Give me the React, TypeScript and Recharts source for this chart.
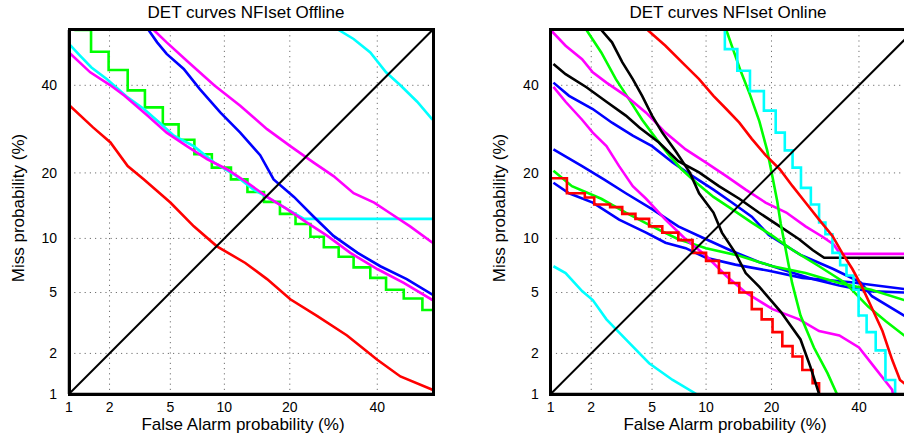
import { LineChart, Line, XAxis, YAxis, CartesianGrid } from "recharts";

// DET curves: [false alarm %, miss %]
const AXIS_MAX = 54.7;
const TICK_PCT = [1, 2, 5, 10, 20, 40];
const TICK_LABELS = ["1", "2", "5", "10", "20", "40"];
const DIAG = [[1, 1], [AXIS_MAX, AXIS_MAX]];

// offline panel
const offRed = [[1, 35], [1.52, 29.6], [2.03, 26.2], [2.67, 21.3], [3.42, 18.8], [5, 14.9], [6.85, 11.5], [9.15, 9.1], [12.7, 7.4], [16, 6], [20.1, 4.55], [25.5, 3.58], [32.4, 2.66], [40, 1.8], [46.1, 1.36], [54.7, 1.08]];
const offGreen = [[1.1, 54.7], [1.47, 48.9], [1.97, 44], [2.67, 38.7], [3.47, 34.4], [4.5, 30.3], [5.6, 26.8], [6.9, 23.7], [8.6, 21], [10.8, 18.8], [13, 16.6], [15.5, 15], [18.2, 13.2], [21.1, 11.8], [24.1, 10.2], [27, 9], [30.4, 8], [34, 7], [38.2, 6.1], [42.3, 5.2], [47, 4.6], [52, 3.9], [54.7, 3.9]];
const offCyanLow = [[1, 51], [1.22, 47.8], [1.48, 44.7], [1.92, 41.6], [2.67, 36.9], [3.42, 34], [4.3, 30.7], [5.25, 27.7], [6.85, 25.4], [8.85, 22], [11.2, 19.7], [13.9, 17], [16.5, 15.5], [19.5, 13.9], [22.8, 12.5], [54.7, 12.5]];
const offMagentaLow = [[1, 48.7], [1.45, 43.4], [2.03, 40], [2.54, 37.3], [3.6, 32.4], [4.75, 28.4], [6.25, 25.4], [8.1, 22.7], [10.3, 20.7], [13, 18.2], [16, 15.8], [19.5, 13.9], [23.4, 12], [27.8, 10.3], [33.2, 8.4], [40, 6.85], [47, 5.7], [54.7, 4.5]];
const offBlue = [[3.66, 54.7], [4.15, 51.4], [4.75, 48.3], [6, 44.3], [7.4, 39], [9.55, 33.1], [12, 28.4], [14.9, 23.5], [17.1, 18.8], [20.8, 15.8], [24.8, 12.8], [29.2, 10.3], [35, 8.4], [40.8, 7.1], [47.8, 6], [54.7, 4.85]];
const offMagentaHigh = [[3.95, 54.7], [4.75, 51.4], [6.25, 46.5], [8.85, 40], [12, 34.8], [16, 29.2], [20.1, 25.4], [24.8, 22], [29.2, 19.4], [34, 16.4], [39.2, 14.9], [43.1, 13.4], [48.7, 11.5], [54.7, 9.5]];
const offCyanHigh = [[30.4, 54.7], [34, 52.3], [38.2, 48.7], [42.3, 43.4], [46.1, 40], [50.6, 35.8], [54.7, 31.4]];

// online panel
const onCyanLow = [[1.05, 7.1], [1.3, 6.5], [1.72, 5.1], [2.05, 4.5], [2.55, 3.4], [3.43, 2.5], [4.8, 1.7], [6.6, 1.28], [8.9, 1.0]];
const onRedStep = [[1, 19], [1.33, 16.4], [1.8, 15.7], [2.1, 14.6], [2.7, 14.2], [3.25, 13.2], [3.95, 12.5], [4.8, 11.5], [5.75, 10.7], [7.1, 9.8], [8.5, 8.4], [10, 7.6], [11.6, 6.5], [13, 5.7], [14.5, 5], [16.5, 3.95], [18.2, 3.4], [20.2, 2.8], [22.1, 2.25], [24.2, 1.9], [26.3, 1.52], [28.6, 1.21], [30.1, 1.0]];
const onBlueLow = [[1.05, 18.2], [1.38, 16.4], [2.05, 14.9], [3.1, 12.4], [4.6, 10.7], [6, 9.5], [7.8, 8.9], [10, 7.9], [13.9, 7.25], [19.5, 6.7], [26.3, 6.1], [37.9, 5.75], [52, 5.25], [54.7, 5.2]];
const onBlueMid = [[1.05, 24.7], [1.72, 21.3], [2.45, 18.8], [3.43, 16.4], [5, 13.9], [7.1, 11.5], [10, 9.9], [13.4, 8.6], [17.7, 7.5], [22.9, 6.7], [28.6, 6.0], [35, 5.5], [42.4, 5.1], [52, 5.0], [54.7, 4.95]];
const onBlueHigh = [[1.05, 40.7], [1.38, 37.3], [2.05, 34], [2.78, 30.7], [3.8, 27.7], [5, 25.4], [6.6, 22], [8.5, 19.4], [10.9, 17], [13.4, 14.9], [16.5, 12.8], [19.5, 10.4], [25.9, 8.2], [33.5, 6.85], [40.4, 5.75], [43.4, 4.75], [52, 3.6], [54.7, 3.35]];
const onGreenLow = [[1.05, 20.4], [1.45, 17.6], [2.35, 15.5], [3.43, 13.4], [5, 11.5], [7.1, 9.9], [10, 8.9], [14.5, 8.1], [20.2, 7.1], [27, 6.5], [35, 5.7], [43.2, 5.2], [52, 4.5], [54.7, 4.35]];
const onGreenMid = [[1.85, 54.7], [2.35, 48.7], [2.95, 41.6], [3.6, 36.4], [4.35, 31.4], [5.3, 27], [6.3, 23.5], [7.4, 20.7], [8.9, 18.2], [10.9, 15.8], [13.4, 13.9], [16.5, 12], [20.2, 10.3], [24.2, 8.7], [30.1, 7.1], [36.5, 5.7], [42.4, 4.1], [47.1, 3.3], [52, 2.66], [54.7, 2.5]];
const onGreenSteep = [[12.6, 54.7], [14.7, 43.8], [16.2, 37.6], [17.8, 31], [19.2, 24.5], [20.1, 19.7], [21.1, 15.1], [21.8, 11.8], [22.8, 8.7], [24.1, 5.7], [25.9, 3.6], [28.9, 2.2], [32.1, 1.44], [34.4, 1.0]];
const onMagentaHigh = [[1.0, 54.7], [1.3, 50.5], [1.72, 46.9], [2.05, 43.4], [2.55, 40.7], [3.43, 37.3], [4.6, 33.1], [6, 28.4], [7.8, 24.7], [10, 22], [12.6, 19.4], [15.5, 17], [18.9, 14.9], [22.9, 13.4], [27, 11.5], [30.9, 10.2], [33.6, 9.3], [35.2, 8.3], [54.7, 8.3]];
const onMagentaLow = [[1.05, 39.6], [1.3, 35.8], [1.72, 31.4], [2.05, 28.4], [2.55, 25.4], [3.1, 21.3], [3.8, 17.6], [4.6, 15.5], [6, 12.4], [7.8, 9.9], [10, 8.1], [12.6, 6.25], [15.5, 5], [20.2, 3.95], [25.6, 3.4], [30.1, 2.85], [35, 2.66], [40, 2.2], [44, 1.6], [48.8, 1.08], [49, 1.0]];
const onBlackFlat = [[1.05, 45.6], [1.3, 42.9], [1.85, 39.5], [2.55, 35.8], [3.43, 32.4], [4.2, 29.5], [5.5, 26.2], [7.1, 22.3], [9.2, 20.1], [11.6, 17.6], [14.5, 15.5], [17.7, 13.4], [21.6, 11.5], [25.6, 9.9], [28.6, 8.7], [31.3, 7.9], [54.7, 7.9]];
const onBlackSteep = [[2.35, 54.7], [2.78, 51.4], [3.25, 46.1], [3.8, 41.6], [4.35, 37.3], [5, 32.4], [5.75, 28.4], [6.9, 24.2], [8.2, 20.1], [9.2, 16.4], [10.9, 13.4], [12, 10.7], [13.9, 8.4], [15.5, 6.5], [17.8, 5.4], [21.8, 3.8], [25.9, 2.5], [28.1, 1.6], [30.1, 1.0]];
const onRedHigh = [[4.7, 54.7], [6, 50.5], [7.8, 45.1], [9.2, 41.6], [10.9, 37.3], [12.6, 34], [14.5, 30.7], [16.5, 27], [18.9, 23.5], [21.6, 20.7], [24.2, 17.6], [27, 14.9], [30.1, 12.4], [33.3, 10.3], [35.7, 8.4], [38.3, 6.85], [40.8, 5.4], [43.2, 4.1], [46.2, 2.85], [48.8, 1.8], [50.9, 1.28], [52, 1.21], [54.7, 1.1]];
const onCyanStep = [[12.4, 54.7], [12.4, 49.6], [14.2, 43.8], [16.2, 38.5], [18.6, 33.6], [20.8, 28.4], [22.6, 24.5], [24.2, 21], [26, 17.3], [28.2, 14.6], [30.1, 12], [31.6, 10.5], [33.3, 8.4], [35.2, 7.2], [36.8, 6.3], [38.6, 5.2], [39.9, 3.6], [42, 2.8], [44.4, 2.1], [47, 1.28], [49.6, 1.0]];

const RED = "#ff0000";
const GREEN = "#00ff00";
const BLUE = "#0000ff";
const MAGENTA = "#ff00ff";
const CYAN = "#00ffff";
const BLACK = "#000000";
const FONT = "'Liberation Sans', Arial, Helvetica, sans-serif";

type Series = { data: number[][]; color: string; step?: boolean };

const offlineSeries: Series[] = [
  { data: offRed, color: RED },
  { data: offGreen, color: GREEN, step: true },
  { data: offCyanLow, color: CYAN },
  { data: offMagentaLow, color: MAGENTA },
  { data: offBlue, color: BLUE },
  { data: offMagentaHigh, color: MAGENTA },
  { data: offCyanHigh, color: CYAN },
];

const onlineSeries: Series[] = [
  { data: onCyanLow, color: CYAN },
  { data: onBlueLow, color: BLUE },
  { data: onBlueMid, color: BLUE },
  { data: onBlueHigh, color: BLUE },
  { data: onGreenLow, color: GREEN },
  { data: onMagentaLow, color: MAGENTA },
  { data: onRedStep, color: RED, step: true },
  { data: onGreenMid, color: GREEN },
  { data: onMagentaHigh, color: MAGENTA },
  { data: onBlackFlat, color: BLACK },
  { data: onBlackSteep, color: BLACK },
  { data: onGreenSteep, color: GREEN },
  { data: onCyanStep, color: CYAN, step: true },
  { data: onRedHigh, color: RED },
];

// inverse normal CDF (Acklam), used for the DET normal-deviate axes
function probit(p: number) {
  const a = [-39.69683028665376, 220.9460984245205, -275.9285104469687, 138.357751867269, -30.66479806614716, 2.506628277459239];
  const b = [-54.47609879822406, 161.5858368580409, -155.6989798598866, 66.80131188771972, -13.28068155288572];
  const c = [-0.007784894002430293, -0.3223964580411365, -2.400758277161838, -2.549732539343734, 4.374664141464968, 2.938163982698783];
  const d = [0.007784695709041462, 0.3224671290700398, 2.445134137142996, 3.754408661907416];
  const pl = 0.02425;
  if (p < pl) {
    const q = Math.sqrt(-2 * Math.log(p));
    return (((((c[0] * q + c[1]) * q + c[2]) * q + c[3]) * q + c[4]) * q + c[5]) / ((((d[0] * q + d[1]) * q + d[2]) * q + d[3]) * q + 1);
  }
  if (p <= 1 - pl) {
    const q = p - 0.5;
    const r = q * q;
    return ((((((a[0] * r + a[1]) * r + a[2]) * r + a[3]) * r + a[4]) * r + a[5]) * q) / (((((b[0] * r + b[1]) * r + b[2]) * r + b[3]) * r + b[4]) * r + 1);
  }
  const q = Math.sqrt(-2 * Math.log(1 - p));
  return -(((((c[0] * q + c[1]) * q + c[2]) * q + c[3]) * q + c[4]) * q + c[5]) / ((((d[0] * q + d[1]) * q + d[2]) * q + d[3]) * q + 1);
}

const Z_MIN = probit(0.01);
const Z_MAX = probit(AXIS_MAX / 100);
const TICK_Z = TICK_PCT.map((t) => probit(t / 100));

const toPoints = (pairs: number[][]) =>
  pairs.map(([fa, miss]) => ({ x: probit(fa / 100), y: probit(miss / 100) }));

const tickStyle = { fill: "#000", fontSize: 14, fontFamily: FONT };
const frameLine = { stroke: "#000", strokeWidth: 2.5 };

function DetPanel({ series, width, left, right }: { series: Series[]; width: number; left: number; right: number }) {
  return (
    <LineChart width={width} height={439} margin={{ top: 30, right, bottom: 15, left }}>
      <CartesianGrid stroke="#707070" strokeDasharray="1.2 4" />
      <XAxis
        type="number"
        dataKey="x"
        domain={[Z_MIN, Z_MAX]}
        ticks={TICK_Z}
        interval={0}
        allowDataOverflow
        tickLine={false}
        axisLine={frameLine}
        height={30}
        tickFormatter={(_v: number, i: number) => TICK_LABELS[i]}
        tick={tickStyle}
      />
      <XAxis
        xAxisId="top"
        orientation="top"
        type="number"
        domain={[Z_MIN, Z_MAX]}
        ticks={TICK_Z}
        allowDataOverflow
        tick={false}
        tickLine={false}
        axisLine={frameLine}
        height={0}
      />
      <YAxis
        type="number"
        dataKey="y"
        domain={[Z_MIN, Z_MAX]}
        ticks={TICK_Z}
        interval={0}
        allowDataOverflow
        tickLine={false}
        axisLine={frameLine}
        width={40}
        tickMargin={6}
        tickFormatter={(_v: number, i: number) => TICK_LABELS[i]}
        tick={tickStyle}
      />
      <YAxis
        yAxisId="right"
        orientation="right"
        type="number"
        domain={[Z_MIN, Z_MAX]}
        ticks={TICK_Z}
        allowDataOverflow
        tick={false}
        tickLine={false}
        axisLine={frameLine}
        width={0}
      />
      {series.map((s, i) => (
        <Line
          key={i}
          data={toPoints(s.data)}
          dataKey="y"
          type={s.step ? "stepAfter" : "linear"}
          stroke={s.color}
          strokeWidth={2.6}
          dot={false}
          activeDot={false}
          isAnimationActive={false}
        />
      ))}
      <Line
        data={toPoints(DIAG)}
        dataKey="y"
        type="linear"
        stroke="#000"
        strokeWidth={2}
        dot={false}
        activeDot={false}
        isAnimationActive={false}
      />
    </LineChart>
  );
}

const textBase = {
  position: "absolute" as const,
  fontFamily: FONT,
  fontSize: 17,
  lineHeight: "20px",
  color: "#000",
  textAlign: "center" as const,
  whiteSpace: "nowrap" as const,
};

const frame = {
  position: "absolute" as const,
  top: 28,
  width: 367,
  height: 368,
  boxSizing: "border-box" as const,
  borderStyle: "solid",
  borderWidth: 3,
  borderColor: "#000",
  pointerEvents: "none" as const,
  zIndex: 5,
};

export default function App() {
  return (
    <div style={{ position: "absolute", left: 0, top: 0, width: 904, height: 439, overflow: "hidden", background: "#fff" }}>
      <div style={{ position: "absolute", left: 0, top: 0 }}>
        <DetPanel series={offlineSeries} width={452} left={29} right={19.5} />
      </div>
      <div style={{ position: "absolute", left: 452, top: 0 }}>
        <DetPanel series={onlineSeries} width={480} left={58.7} right={17.8} />
      </div>
      <div style={{ ...frame, left: 67.5 }} />
      <div style={{ ...frame, left: 549.2 }} />

      <div style={{ ...textBase, left: 96, top: 3, width: 300 }}>DET curves NFIset Offline</div>
      <div style={{ ...textBase, left: 578, top: 3, width: 300 }}>DET curves NFIset Online</div>

      <div style={{ ...textBase, left: 93, top: 415, width: 300 }}>False Alarm probability (%)</div>
      <div style={{ ...textBase, left: 575, top: 415, width: 300 }}>False Alarm probability (%)</div>

      <div style={{ ...textBase, left: 19 - 100, top: 208 - 10, width: 200, transform: "rotate(-90deg)" }}>Miss probability (%)</div>
      <div style={{ ...textBase, left: 500 - 100, top: 208 - 10, width: 200, transform: "rotate(-90deg)" }}>Miss probability (%)</div>
    </div>
  );
}
